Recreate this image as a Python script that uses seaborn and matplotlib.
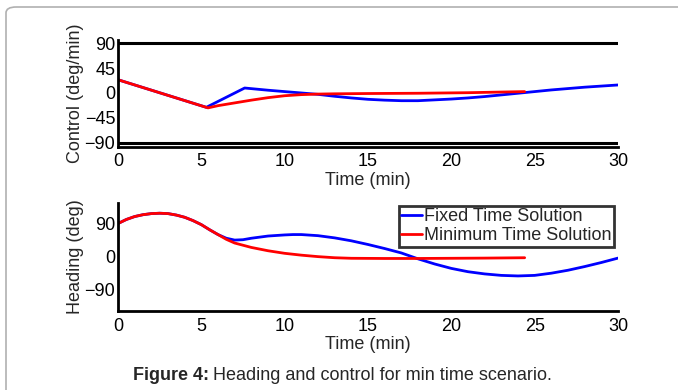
import numpy as np
import pandas as pd
import seaborn as sns
import matplotlib.pyplot as plt
from matplotlib.patches import FancyBboxPatch

# control (deg/min) vs time (min)
ctrl_fixed_t = [0, 5.3, 7.6, 9, 10, 11, 12, 13, 14, 15, 16, 17, 18, 19, 20,
                21, 22, 23, 24, 25, 26, 27, 28, 29, 30]
ctrl_fixed_v = [24, -26, 9, 5, 2.5, 0, -2.5, -6, -9, -11.5, -13, -14, -14, -12.5, -11,
                -9, -6.5, -3.5, -0.5, 2.5, 5.5, 8, 10.5, 12.5, 14.5]
ctrl_min_t = [0, 5.4, 6, 7, 8, 9, 10, 11, 12, 13, 15, 18, 21, 24.4]
ctrl_min_v = [24, -27, -23, -18, -13, -8.5, -5, -3, -2, -1.5, -1, -0.5, 0.5, 2.5]
control_bounds = [-90, 90]

# heading (deg) vs time (min)
head_fixed_t = [0, 0.5, 1, 1.5, 2, 2.5, 3, 3.5, 4, 4.5, 5, 5.5, 6, 6.5, 7, 7.5, 8, 9, 10, 10.5,
                11, 12, 13, 14, 15, 16, 17, 18, 19, 20, 21, 22, 23, 24, 25, 26, 27, 28, 29, 30]
head_fixed_v = [90, 101, 109, 114, 117, 118, 117, 113, 107, 98, 87, 73, 60, 50, 45, 46, 50, 56,
                59, 60, 60, 57, 51, 43, 33, 22, 10, -6, -20, -32, -41, -47, -51, -52.5, -51,
                -45, -37, -27, -16, -4]
head_min_t = [0, 0.5, 1, 1.5, 2, 2.5, 3, 3.5, 4, 4.5, 5, 5.5, 6, 6.5, 7, 8, 9, 10, 11, 12, 13,
              14, 16, 18, 20, 22, 24.4]
head_min_v = [90, 101, 109, 114, 117, 118, 117, 113, 107, 98, 87, 73, 60, 47, 37, 25, 16, 9, 4,
              0, -3, -4.5, -5, -5, -4.5, -4, -3]

series_labels = ["Fixed Time Solution", "Minimum Time Solution"]
series_colors = ["#0000ff", "#ff0000"]
x_ticks = [0, 5, 10, 15, 20, 25, 30]
ctrl_ticks = [90, 45, 0, -45, -90]
head_ticks = [90, 0, -90]

sns.set_style("white")
plt.rcParams['font.family'] = ['Liberation Sans', 'DejaVu Sans']

fig = plt.figure(figsize=(6.78, 3.90), dpi=100)
fig.patch.set_facecolor("white")

# rounded frame (only top and left edges fall inside the picture)
frame = FancyBboxPatch((6 / 678, -0.2), 1.2, 1 - 7 / 390 + 0.2,
                       boxstyle="round,pad=0,rounding_size=0.015",
                       transform=fig.transFigure, facecolor="none", edgecolor="#b0b0b0", lw=1.2)
fig.patches.append(frame)

ax1 = fig.add_axes([118 / 678, 1 - 146.5 / 390, 500 / 678, 106.5 / 390])
ax2 = fig.add_axes([118 / 678, 1 - 310.7 / 390, 500 / 678, 107.4 / 390])

df_c1 = pd.DataFrame({"t": ctrl_fixed_t, "v": ctrl_fixed_v})
df_c2 = pd.DataFrame({"t": ctrl_min_t, "v": ctrl_min_v})
for b in control_bounds:
    ax1.axhline(b, color="black", lw=2.2)
sns.lineplot(data=df_c1, x="t", y="v", ax=ax1, color=series_colors[0], lw=2)
sns.lineplot(data=df_c2, x="t", y="v", ax=ax1, color=series_colors[1], lw=2)

df_h1 = pd.DataFrame({"t": head_fixed_t, "v": head_fixed_v})
df_h2 = pd.DataFrame({"t": head_min_t, "v": head_min_v})
sns.lineplot(data=df_h1, x="t", y="v", ax=ax2, color=series_colors[0], lw=2, label=series_labels[0])
sns.lineplot(data=df_h2, x="t", y="v", ax=ax2, color=series_colors[1], lw=2, label=series_labels[1])

ax1.set_ylim(-97, 96)
ax2.set_ylim(-147, 145)
for ax, yt, yl in [(ax1, ctrl_ticks, "Control (deg/min)"), (ax2, head_ticks, "Heading (deg)")]:
    ax.set_xlim(0, 30)
    ax.set_xticks(x_ticks)
    ax.set_yticks(yt)
    ax.set_facecolor("none")
    for s in ["top", "right"]:
        ax.spines[s].set_visible(False)
    for s in ["left", "bottom"]:
        ax.spines[s].set_linewidth(2)
        ax.spines[s].set_color("black")
    ax.tick_params(direction="in", length=4, width=1.5, labelsize=13, pad=2, colors="black")
    ax.tick_params(axis="x", pad=5)
    ax.set_xlabel("Time (min)", fontsize=13, labelpad=1)
    ax.set_ylabel(yl, fontsize=13, labelpad=0)

leg = ax2.legend(loc="upper right", bbox_to_anchor=(614 / 678, 1 - 205.7 / 390),
                 bbox_transform=fig.transFigure, fontsize=13, frameon=True, fancybox=False,
                 handlelength=1.15, handletextpad=0.1, labelspacing=0.1, borderpad=0.15,
                 borderaxespad=0)
leg.get_frame().set_edgecolor("black")
leg.get_frame().set_linewidth(2)

# caption
t1 = fig.text(133 / 678, 1 - 375 / 390, "Figure 4:", fontsize=13, fontweight="bold", va="center")
fig.canvas.draw()
bb = t1.get_window_extent().transformed(fig.transFigure.inverted())
fig.text(bb.x1 + 0.006, 1 - 375 / 390, "Heading and control for min time scenario.",
         fontsize=13, va="center")

fig.savefig("out.png", dpi=100)
